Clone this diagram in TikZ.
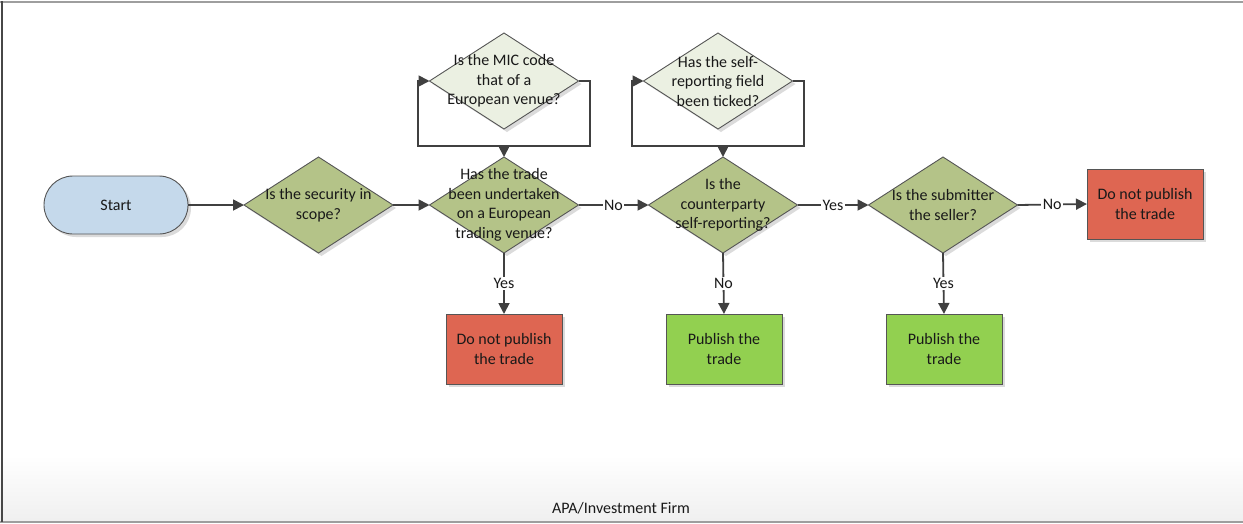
\documentclass[tikz,border=0pt]{standalone}
\usepackage{fontspec}
\setmainfont{Carlito}
\usetikzlibrary{shapes.geometric,arrows.meta,shadows}
\definecolor{diaolive}{HTML}{B4C388}
\definecolor{diapale}{HTML}{EBF0E2}
\definecolor{boxred}{HTML}{DE6652}
\definecolor{boxgreen}{HTML}{92D050}
\definecolor{startblue}{HTML}{C5D9EB}
\definecolor{edgegray}{HTML}{555555}
\definecolor{arrowgray}{HTML}{404040}
\begin{document}
\begin{tikzpicture}[x=1pt,y=-1pt,
  txt/.style={align=center,font=\fontsize{16}{19.5}\selectfont,text=black!90,inner sep=0pt},
  shad/.style={drop shadow={shadow xshift=3pt,shadow yshift=-3pt,fill=black!14,opacity=1}},
  term/.style={shad,rounded corners=29pt,minimum width=144pt,minimum height=58pt,fill=startblue,draw=edgegray,line width=0.9pt,inner sep=0pt,outer sep=0pt},
  dia/.style={shad,diamond,minimum width=149pt,minimum height=96pt,inner sep=0pt,outer sep=0pt,fill=diaolive,draw=edgegray,line width=0.9pt},
  paledia/.style={dia,fill=diapale},
  boxn/.style={shad,rectangle,minimum width=116pt,minimum height=70pt,inner sep=0pt,outer sep=0pt,draw=edgegray,line width=0.9pt},
  arr/.style={draw=arrowgray,line width=1.8pt,-{Triangle[length=11pt,width=11pt]}},
  ln/.style={draw=arrowgray,line width=1.8pt},
  lab/.style={txt,fill=white,inner sep=1.5pt}]
\useasboundingbox (0,0) rectangle (1243,523);
\shade[top color=white,bottom color=black!6] (0,455) rectangle (1243,521);
\draw[line width=2pt,color=black!38] (0,1.5) -- (1243,1.5);
\draw[line width=2pt,color=black!38] (0,521.5) -- (1243,521.5);
\draw[line width=2pt,color=black!72] (1.5,1) -- (1.5,522);
\node[txt] (pool) at (621,508) {APA/Investment Firm};

% shapes
\node[term] (start) at (116,205) {};
\node[txt] at (start) {Start};
\node[dia] (d1) at (318.5,205) {};
\node[txt] at (d1) {Is the security in\\scope?};
\node[dia] (d2) at (504,205) {};
\node[txt] at (d2) {Has the trade\\been undertaken\\on a European\\trading venue?};
\node[dia] (d3) at (723,205) {};
\node[txt] at (d3) {Is the\\counterparty\\self-reporting?};
\node[dia] (d4) at (943,205) {};
\node[txt] at (d4) {Is the submitter\\the seller?};
\node[paledia] (mic) at (504,81) {};
\node[txt] at (mic) {Is the MIC code\\that of a\\European venue?};
\node[paledia] (self) at (718,81) {};
\node[txt] at (self) {Has the self-\\reporting field\\been ticked?};
\node[boxn,fill=boxred] (r1) at (504,349) {};
\node[txt] at (r1) {Do not publish\\the trade};
\node[boxn,fill=boxgreen] (g1) at (724,349) {};
\node[txt] at (g1) {Publish the\\trade};
\node[boxn,fill=boxgreen] (g2) at (944,349) {};
\node[txt] at (g2) {Publish the\\trade};
\node[boxn,fill=boxred] (r2) at (1145,204) {};
\node[txt] at (r2) {Do not publish\\the trade};

% loop coordinates
\coordinate (micR) at (590,146);
\coordinate (micJ) at (504,146);
\coordinate (micL) at (418,146);
\coordinate (selfR) at (804,146);
\coordinate (selfJ) at (723,146);
\coordinate (selfL) at (632,146);

% connectors
\draw[arr] (start.east) -- (d1.west);
\draw[arr] (d1.east) -- (d2.west);
\draw[arr] (d2.east) -- node[lab]{No} (d3.west);
\draw[arr] (d3.east) -- node[lab]{Yes} (d4.west);
\draw[arr] (d4.east) -- node[lab]{No} (r2.west);
\draw[arr] (d2.south) -- node[lab]{Yes} (r1.north);
\draw[arr] (d3.south) -- node[lab]{No} (g1.north);
\draw[arr] (d4.south) -- node[lab]{Yes} (g2.north);

\draw[ln] (mic.east) -| (micR) -- (micJ);
\draw[arr] (micJ) -- (d2.north);
\draw[arr] (micJ) -- (micL) |- (mic.west);
\draw[ln] (self.east) -| (selfR) -- (selfJ);
\draw[arr] (selfJ) -- (d3.north);
\draw[arr] (selfJ) -- (selfL) |- (self.west);
\end{tikzpicture}
\end{document}
